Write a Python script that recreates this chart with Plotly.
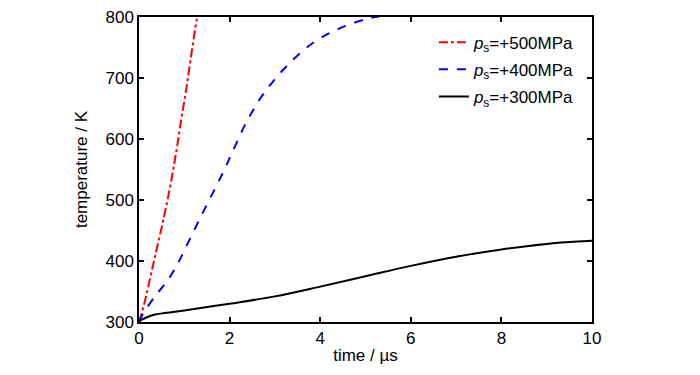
import plotly.graph_objects as go

# Data
red_t = [0, 0.11, 0.33, 0.55, 0.70, 0.82, 0.92, 1.03, 1.14, 1.27, 1.28]
red_T = [300, 328, 400, 472, 527, 578, 626, 676, 731, 794, 797]

blue_t = [0, 0.04, 0.33, 0.63, 0.85, 1.07, 1.36, 1.66, 1.88, 2.07, 2.36, 2.72, 3.24, 3.83, 4.42, 5.08, 5.3]
blue_T = [300, 307, 340, 368, 395, 428, 472, 516, 549, 580, 626, 671, 718, 757, 781, 798, 801]

black_t = [0, 0.04, 0.15, 0.33, 0.6, 1, 2, 3, 4, 5, 6, 7, 8, 9, 10]
black_T = [300, 303, 307, 312, 315, 319, 330, 342, 358, 375, 392, 407, 419, 428, 433]

labels = ["<i>p</i><sub>s</sub>=+500MPa", "<i>p</i><sub>s</sub>=+400MPa", "<i>p</i><sub>s</sub>=+300MPa"]

FONT = "Liberation Sans, Arial"

fig = go.Figure()
fig.add_trace(go.Scatter(x=red_t, y=red_T, mode="lines", name=labels[0], legendgroup="a",
                         line=dict(color="red", width=2, dash="dashdot", shape="spline")))
fig.add_trace(go.Scatter(x=blue_t, y=blue_T, mode="lines", name=labels[1], legendgroup="b",
                         line=dict(color="blue", width=2, dash="dash", shape="spline")))
fig.add_trace(go.Scatter(x=black_t, y=black_T, mode="lines", name=labels[2], legendgroup="c",
                         line=dict(color="black", width=2, shape="spline")))

axis_common = dict(showline=True, linecolor="black", linewidth=1.5, mirror="ticks",
                   ticks="inside", ticklen=5, tickwidth=1.5, tickcolor="black",
                   showgrid=False, zeroline=False, automargin=False,
                   ticklabeloverflow="allow",
                   tickfont=dict(family=FONT, size=17, color="black"))

fig.update_xaxes(range=[0, 10], dtick=2, title=dict(text="time / µs", standoff=2,
                 font=dict(family=FONT, size=17, color="black")), **axis_common)
fig.update_yaxes(range=[300, 800], dtick=100, title=dict(text="temperature / K", standoff=14,
                 font=dict(family=FONT, size=17, color="black")), **axis_common)

fig.update_layout(
    width=692, height=367,
    margin=dict(l=131, r=108, t=9, b=53, autoexpand=False),
    plot_bgcolor="white", paper_bgcolor="white",
    legend=dict(x=0.651, y=0.975, xanchor="left", yanchor="top", bgcolor="rgba(0,0,0,0)",
                font=dict(family=FONT, size=17, color="black"),
                tracegroupgap=2),
    showlegend=True,
)

fig.write_html("out.html")
